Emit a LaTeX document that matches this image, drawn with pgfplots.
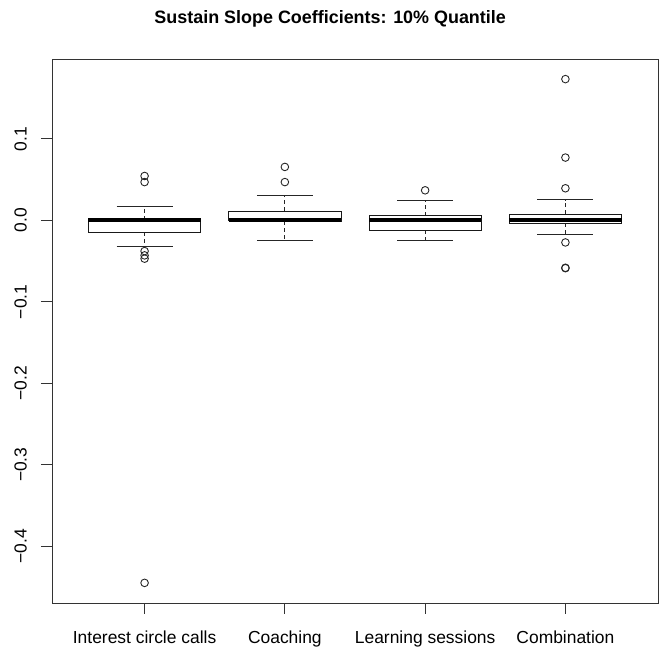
\documentclass[border=0pt]{standalone}
\usepackage{pgfplots}
\pgfplotsset{compat=1.18}
\usepackage{fontspec}
\setmainfont{Liberation Sans}
\begin{document}
\begin{tikzpicture}
\path (0,0) rectangle (659bp,651bp);
\begin{axis}[
  at={(52bp,48bp)}, anchor=south west,
  scale only axis, width=606bp, height=544bp,
  xmin=0.34, xmax=4.66, ymin=-0.4697, ymax=0.1981,
  axis line style={black!80, line width=0.9bp},
  xtick={1,2,3,4},
  xticklabels={Interest circle calls, Coaching, Learning sessions, Combination},
  ytick={-0.4,-0.3,-0.2,-0.1,0,0.1},
  yticklabels={−0.4,−0.3,−0.2,−0.1,0.0,0.1},
  xtick pos=bottom, ytick pos=left,
  tick align=outside, major tick length=11bp,
  tick style={black!80, line width=0.9bp},
  ticklabel style={font=\fontsize{17.5}{20}\selectfont, inner sep=0pt},
  xticklabel style={anchor=base},
  xticklabel shift=29bp,
  yticklabel style={rotate=90, anchor=south},
  yticklabel shift=14bp,
  title={Sustain Slope Coefficients: 10\% Quantile},
  title style={font=\bfseries\fontsize{18}{20}\selectfont, at={(0.459,1.054)}, anchor=base, inner sep=0pt},
  box/.style={draw=black!90, fill=white, line width=0.9bp},
  med/.style={black, line width=4bp},
  whisk/.style={black!85, line width=0.9bp, dash pattern=on 4bp off 3bp},
  cap/.style={black!85, line width=0.9bp},
  outl/.style={only marks, mark=o, mark size=3.8bp, mark options={line width=0.9bp, draw=black!85}},
]
% ---- Interest circle calls (x=1): lw -0.0324, q1 -0.0143, med 0, q3 0.001, uw 0.0176
\addplot[whisk] coordinates {(1,0.001) (1,0.0176)};
\addplot[whisk] coordinates {(1,-0.0143) (1,-0.0324)};
\addplot[cap] coordinates {(0.8,0.0176) (1.2,0.0176)};
\addplot[cap] coordinates {(0.8,-0.0324) (1.2,-0.0324)};
\addplot[box] coordinates {(0.6,-0.0143) (1.4,-0.0143) (1.4,0.001) (0.6,0.001) (0.6,-0.0143)};
\addplot[med] coordinates {(0.6,0.0) (1.4,0.0)};
\addplot[outl] coordinates {(1,0.0545) (1,0.047) (1,-0.0377) (1,-0.043) (1,-0.047) (1,-0.445)};
% ---- Coaching (x=2): lw -0.025, q1 -0.001, med 0, q3 0.0115, uw 0.030
\addplot[whisk] coordinates {(2,0.0115) (2,0.030)};
\addplot[whisk] coordinates {(2,-0.001) (2,-0.025)};
\addplot[cap] coordinates {(1.8,0.030) (2.2,0.030)};
\addplot[cap] coordinates {(1.8,-0.025) (2.2,-0.025)};
\addplot[box] coordinates {(1.6,-0.001) (2.4,-0.001) (2.4,0.0115) (1.6,0.0115) (1.6,-0.001)};
\addplot[med] coordinates {(1.6,0.0) (2.4,0.0)};
\addplot[outl] coordinates {(2,0.0656) (2,0.047)};
% ---- Learning sessions (x=3): lw -0.025, q1 -0.0123, med 0, q3 0.0058, uw 0.0246
\addplot[whisk] coordinates {(3,0.0058) (3,0.0246)};
\addplot[whisk] coordinates {(3,-0.0123) (3,-0.025)};
\addplot[cap] coordinates {(2.8,0.0246) (3.2,0.0246)};
\addplot[cap] coordinates {(2.8,-0.025) (3.2,-0.025)};
\addplot[box] coordinates {(2.6,-0.0123) (3.4,-0.0123) (3.4,0.0058) (2.6,0.0058) (2.6,-0.0123)};
\addplot[med] coordinates {(2.6,0.0) (3.4,0.0)};
\addplot[outl] coordinates {(3,0.0369)};
% ---- Combination (x=4): lw -0.0172, q1 -0.0037, med 0, q3 0.0078, uw 0.0255
\addplot[whisk] coordinates {(4,0.0078) (4,0.0255)};
\addplot[whisk] coordinates {(4,-0.0037) (4,-0.0172)};
\addplot[cap] coordinates {(3.8,0.0255) (4.2,0.0255)};
\addplot[cap] coordinates {(3.8,-0.0172) (4.2,-0.0172)};
\addplot[box] coordinates {(3.6,-0.0037) (4.4,-0.0037) (4.4,0.0078) (3.6,0.0078) (3.6,-0.0037)};
\addplot[med] coordinates {(3.6,0.0) (4.4,0.0)};
\addplot[outl] coordinates {(4,0.1734) (4,0.0771) (4,0.0394) (4,-0.0271) (4,-0.0582) (4,-0.0587)};
\end{axis}
\end{tikzpicture}
\end{document}
